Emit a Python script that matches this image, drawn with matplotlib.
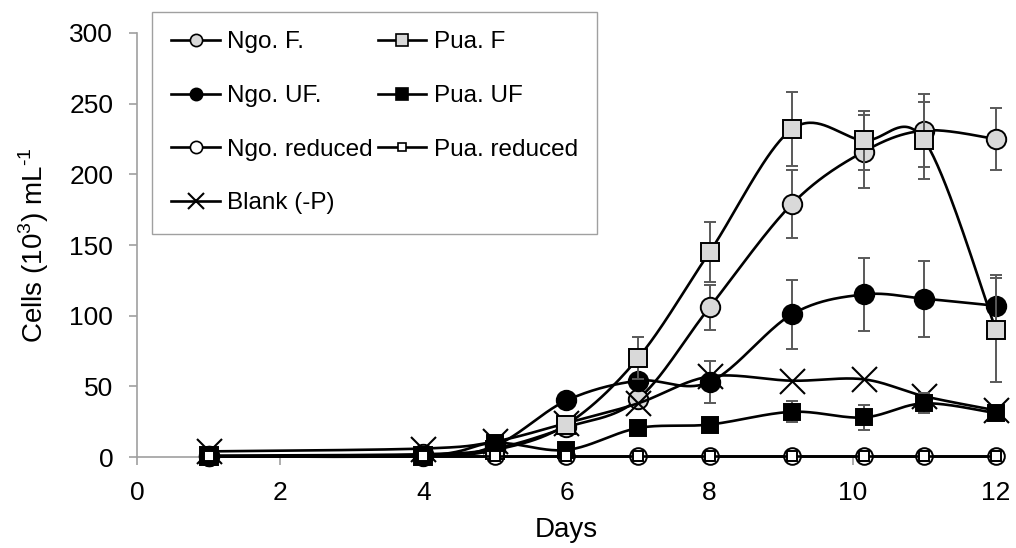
import matplotlib
matplotlib.use("Agg")
import matplotlib.pyplot as plt
import numpy as np
from matplotlib.lines import Line2D

plt.rcParams["font.family"] = ["Liberation Sans", "DejaVu Sans"]
plt.rcParams["mathtext.fontset"] = "custom"
plt.rcParams["mathtext.rm"] = "Liberation Sans"

# data (cells 10^3 / mL)
days = [1, 4, 5, 6, 7, 8, 9.15, 10.15, 11, 12]

ngo_f = [1, 2, 6, 21, 41, 106, 179, 216, 231, 225]
ngo_f_err = [0, 0, 1, 2, 4, 16, 24, 26, 26, 22]
pua_f = [0.5, 1, 5, 23, 70, 145, 232, 224, 224, 90]
pua_f_err = [0, 0, 1, 2, 15, 21, 26, 21, 27, 37]

ngo_uf = [0.5, 1, 8, 40, 54, 53, 101, 115, 112, 107]
ngo_uf_err = [0, 0, 1, 2, 3, 15, 24.5, 25.5, 27, 22]
pua_uf = [0.5, 1, 10, 5, 20.5, 23, 32, 28, 38, 31]
pua_uf_err = [0, 0, 1, 1, 2, 2, 7.5, 9, 7, 4]

ngo_red = [0.5, 0.5, 0.5, 0.5, 0.5, 0.5, 0.5, 0.5, 0.5, 0.5]
pua_red = [0.5, 0.5, 0.5, 0.5, 0.5, 0.5, 0.5, 0.5, 0.5, 0.5]

blank = [4, 6, 11, 24, 38, 57, 54, 55, 43, 33]

GREY = "#d9d9d9"
ERR = "#595959"


def smooth(x, y, n=40):
    # excel style smoothed line (catmull-rom as bezier)
    p = np.column_stack([x, y]).astype(float)
    xs, ys = [], []
    for i in range(len(p) - 1):
        p0 = p[i - 1] if i > 0 else p[i]
        p1 = p[i]
        p2 = p[i + 1]
        p3 = p[i + 2] if i + 2 < len(p) else p[i + 1]
        c1 = p1 + (p2 - p0) / 6
        c2 = p2 - (p3 - p1) / 6
        t = np.linspace(0, 1, n)[:, None]
        b = (1 - t) ** 3 * p1 + 3 * (1 - t) ** 2 * t * c1 + 3 * (1 - t) * t ** 2 * c2 + t ** 3 * p2
        xs.append(b[:, 0])
        ys.append(b[:, 1])
    return np.concatenate(xs), np.concatenate(ys)


fig = plt.figure(figsize=(10.16, 5.48), dpi=100)
ax = fig.add_axes([0.1348, 0.166, 0.8455, 0.7738])

series = [
    (ngo_f, ngo_f_err, "o", GREY, 14, "Ngo. F."),
    (ngo_uf, ngo_uf_err, "o", "black", 14, "Ngo. UF."),
    (ngo_red, None, "o", "white", 12, "Ngo. reduced"),
    (blank, None, "x", "black", 18, "Blank (-P)"),
    (pua_f, pua_f_err, "s", GREY, 13, "Pua. F"),
    (pua_uf, pua_uf_err, "s", "black", 12, "Pua. UF"),
    (pua_red, None, "s", "white", 7, "Pua. reduced"),
]

z = 3
for vals, err, mk, fc, ms, lab in series:
    sx, sy = smooth(days, vals)
    ax.plot(sx, sy, color="black", lw=1.9, zorder=z, clip_on=False)
    if err is not None:
        ax.errorbar(days, vals, yerr=err, fmt="none", ecolor=ERR, elinewidth=1.4,
                    capsize=4, capthick=1.4, zorder=z - 0.5, clip_on=False)
    if mk == "x":
        ax.plot(days, vals, ls="none", marker="x", ms=ms, mew=1.5, color="black",
                zorder=z + 0.5, clip_on=False)
    else:
        ax.plot(days, vals, ls="none", marker=mk, ms=ms, mfc=fc, mec="black",
                mew=1.4, zorder=z + 0.5, clip_on=False)
    z += 1

ax.set_xlim(0, 12)
ax.set_ylim(0, 300)
ax.set_xticks(range(0, 13, 2))
ax.set_yticks(range(0, 301, 50))
for s in ["top", "right"]:
    ax.spines[s].set_visible(False)
for s in ["left", "bottom"]:
    ax.spines[s].set_color("#a0a0a0")
    ax.spines[s].set_linewidth(1.2)
ax.tick_params(colors="#a0a0a0", labelcolor="black", labelsize=19, length=6, width=1.2)
ax.tick_params(axis="x", pad=11)
ax.tick_params(axis="y", pad=11)
ax.set_xlabel("Days", fontsize=20, labelpad=9)
ax.set_ylabel(r"Cells (10$^{\mathregular{3}}$) mL$^{\mathregular{\text{-}1}}$", fontsize=20, labelpad=13)

handles = []
labels = []
for vals, err, mk, fc, ms, lab in series:
    if mk == "x":
        h = Line2D([], [], color="black", lw=1.9, marker="x", ms=12, mew=1.5)
    else:
        h = Line2D([], [], color="black", lw=1.9, marker=mk, ms=min(ms, 11) * 0.8,
                   mfc=fc, mec="black", mew=1.2)
    handles.append(h)
    labels.append(lab)

fig.legend(handles, labels, ncol=2, loc="upper left",
           bbox_to_anchor=(152 / 1016, 1 - 12 / 548), fontsize=17.5,
           frameon=True, fancybox=False, edgecolor="#a0a0a0", framealpha=1,
           handlelength=2.0, handletextpad=0.3, columnspacing=0.2,
           labelspacing=1.3, borderpad=0.8, borderaxespad=0)

fig.savefig("out.png", dpi=100)
